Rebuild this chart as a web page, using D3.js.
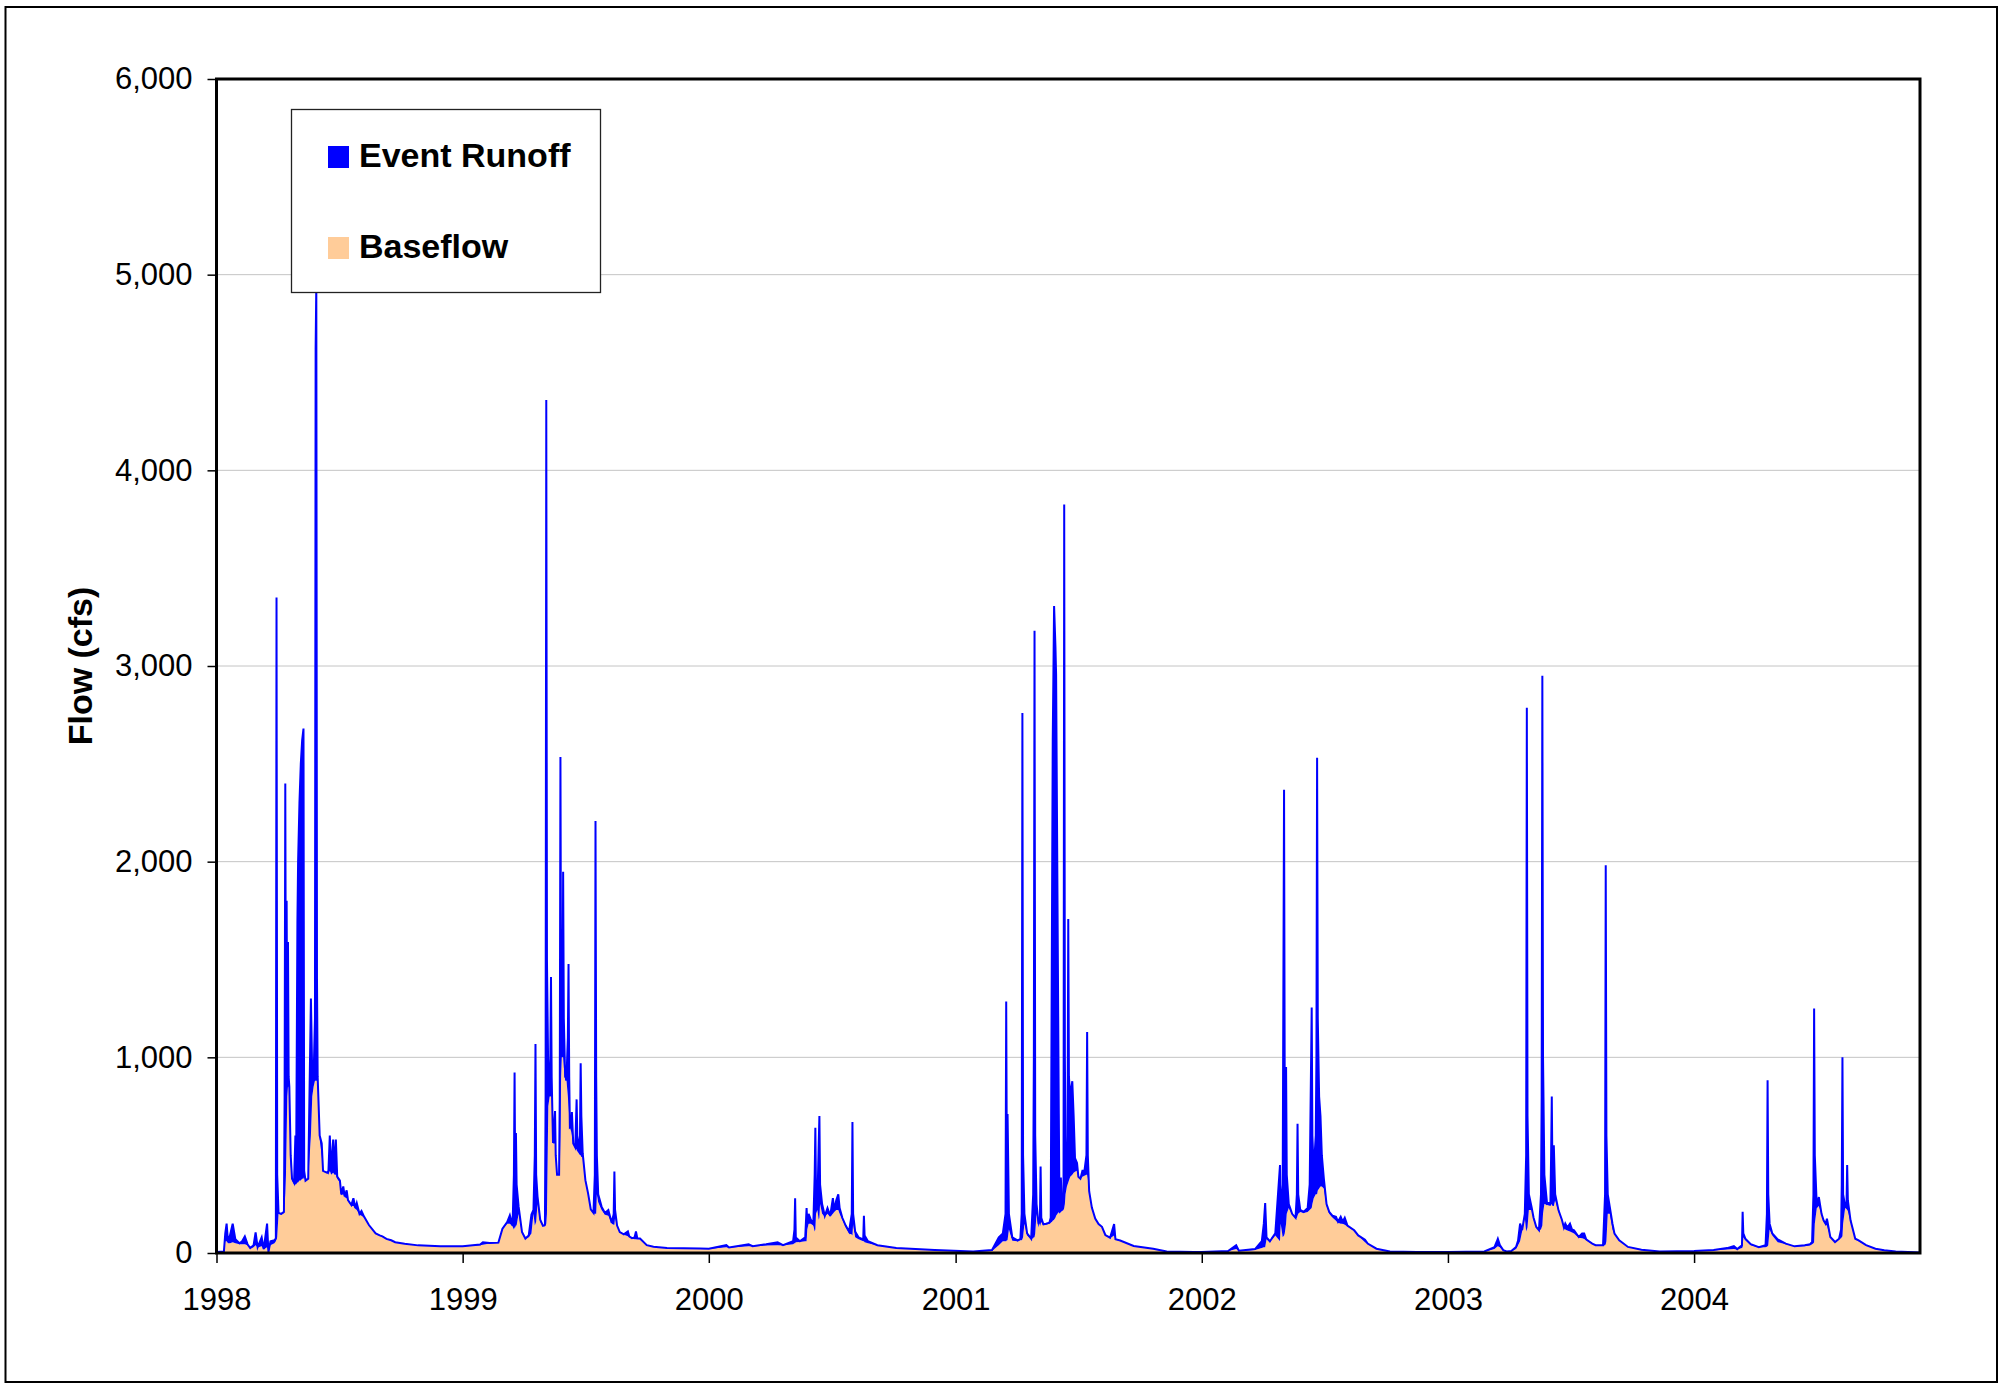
<!DOCTYPE html>
<html>
<head>
<meta charset="utf-8">
<script src="https://cdn.jsdelivr.net/npm/d3@7"></script>
<style>
  body { margin: 0; background: #fff; }
  text { font-family: Arial, "Liberation Sans", sans-serif; }
</style>
</head>
<body>
<script>
// dates are ISO ordinal dates (year-dayOfYear), flows in cfs
const dates1998 = ["1998-001","1998-012","1998-014","1998-016","1998-018","1998-021","1998-025","1998-029","1998-035","1998-039",
  "1998-043","1998-047","1998-051","1998-056","1998-059","1998-062","1998-068","1998-071","1998-076","1998-078",
  "1998-081","1998-087","1998-089","1998-090","1998-091","1998-093","1998-097","1998-101","1998-102","1998-103",
  "1998-104","1998-105","1998-106","1998-107","1998-108","1998-109","1998-111","1998-113","1998-116","1998-118",
  "1998-119","1998-121","1998-122","1998-124","1998-126","1998-128","1998-130","1998-131","1998-133","1998-137",
  "1998-141","1998-143","1998-145","1998-147","1998-148","1998-149","1998-150","1998-151","1998-154","1998-157",
  "1998-159","1998-165","1998-167","1998-169","1998-171","1998-174","1998-176","1998-178","1998-180","1998-184",
  "1998-186","1998-189","1998-191","1998-194","1998-196","1998-201","1998-204","1998-207","1998-209","1998-213",
  "1998-216","1998-220","1998-227","1998-237","1998-243","1998-247","1998-253","1998-260","1998-266","1998-280",
  "1998-300","1998-333"];
const base1998 = [5,8,60,60,50,50,55,50,45,45, 45,40,22,30,40,28,35,18,30,5, 40,50,60,70,80,200,195,205,250,300,
  400,600,800,850,850,830,450,370,350,350, 350,360,360,370,370,380,380,390,370,380, 600,800,850,880,880,880,880,860,580,500,
  420,410,400,420,400,410,400,400,380,360, 295,300,285,280,265,240,240,225,220,195, 190,180,140,98,88,83,70,63,54,46, 38,33];
const runoff1998 = [0,0,40,90,10,40,95,20,5,15, 40,5,3,10,65,2,45,2,120,0, 20,15,15,3280,320,5,5,5,550,2100,
  600,1200,80,740,50,20,50,10,10,250, 20,1340,1640,1930,2130,2240,2300,30,0,0, 700,100,50,320,3740,4070,520,40,20,60,
  0,0,20,180,20,170,30,180,10,10, 5,40,5,40,5,5,40,5,35,5, 25,5,3,2,2,2,2,2,1,1, 1,1];

const dates1999 = ["1999-001","1999-027","1999-031","1999-041","1999-054","1999-060","1999-067","1999-071","1999-075","1999-077",
  "1999-078","1999-079","1999-080","1999-081","1999-084","1999-089","1999-094","1999-099","1999-103","1999-106",
  "1999-108","1999-109","1999-110","1999-112","1999-116","1999-120","1999-123","1999-124","1999-125","1999-126",
  "1999-128","1999-130","1999-131","1999-132","1999-133","1999-135","1999-138","1999-139","1999-141","1999-144",
  "1999-145","1999-146","1999-147","1999-148","1999-149","1999-150","1999-151","1999-153","1999-155","1999-157",
  "1999-158","1999-159","1999-160","1999-162","1999-163","1999-165","1999-168","1999-170","1999-171","1999-173",
  "1999-175","1999-176","1999-177","1999-179","1999-183","1999-187","1999-191","1999-195","1999-197","1999-198",
  "1999-199","1999-200","1999-202","1999-207","1999-212","1999-217","1999-222","1999-225","1999-226","1999-227",
  "1999-230","1999-234","1999-240","1999-246","1999-248","1999-252","1999-256","1999-258","1999-260","1999-264",
  "1999-274","1999-284","1999-304","1999-353"];
const base1999 = [33,40,42,48,50,120,150,150,135,120, 130,130,140,140,200,100,72,80,100,200, 140,150,160,250,160,135,135,140,150,200,
  750,800,800,800,800,560,560,480,400,400, 420,600,900,1000,1000,1000,950,880,880,800, 750,700,640,620,600,560,530,530,520,510,
  500,500,490,490,370,300,220,200,200,200, 200,300,260,220,195,190,150,145,145,180, 135,105,93,85,82,74,70,70,70,70, 39,31,24,22];
const runoff1999 = [1,3,13,3,3,4,8,43,5,280, 792,170,473,210,37,7,2,10,97,20, 360,918,240,40,10,5,10,660,4210,1300,
  140,100,200,611,100,2,166,20,0,0, 380,1935,300,52,100,948,250,20,14,300, 727,200,3,30,120,0,10,255,80,10,
  100,470,210,20,2,5,3,5,200,2008, 700,200,40,17,10,30,5,55,271,40, 5,2,2,25,3,2,10,40,5,4, 1,1,1,1];

const dates2000 = ["2000-001","2000-027","2000-031","2000-060","2000-066","2000-086","2000-103","2000-111","2000-126","2000-128",
  "2000-129","2000-130","2000-136","2000-144","2000-146","2000-147","2000-149","2000-152","2000-156","2000-158",
  "2000-159","2000-160","2000-162","2000-164","2000-165","2000-166","2000-169","2000-173","2000-177","2000-181",
  "2000-185","2000-187","2000-190","2000-193","2000-195","2000-199","2000-204","2000-209","2000-213","2000-214",
  "2000-215","2000-218","2000-223","2000-230","2000-231","2000-232","2000-237","2000-251","2000-279","2000-336"];
const base2000 = [21,30,27,35,33,38,40,38,45,50, 50,55,56,60,60,120,150,150,140,110, 120,200,220,170,180,250,200,185,200,185,
  200,210,220,220,200,170,130,100,95,90, 150,80,70,60,60,55,50,38,24,14];
const runoff2000 = [1,10,1,10,2,7,15,2,15,70, 230,25,4,20,170,30,50,23,10,290, 520,100,30,390,520,100,50,5,30,5,
  80,10,50,80,30,10,10,10,105,580, 50,30,10,10,130,35,10,2,1,1];

const dates2001 = ["2001-027","2001-055","2001-065","2001-071","2001-075","2001-076","2001-077","2001-078","2001-080","2001-085",
  "2001-093","2001-097","2001-099","2001-100","2001-101","2001-103","2001-107","2001-113","2001-116","2001-117",
  "2001-118","2001-119","2001-121","2001-124","2001-126","2001-127","2001-128","2001-131","2001-135","2001-140",
  "2001-142","2001-144","2001-145","2001-147","2001-149","2001-150","2001-152","2001-154","2001-155","2001-157",
  "2001-159","2001-161","2001-162","2001-163","2001-164","2001-166","2001-167","2001-168","2001-169","2001-171",
  "2001-174","2001-176","2001-178","2001-181","2001-183","2001-186","2001-189","2001-192","2001-195","2001-196",
  "2001-197","2001-199","2001-203","2001-208","2001-213","2001-218","2001-223","2001-230","2001-236","2001-238",
  "2001-245","2001-265","2001-294","2001-314","2001-354"];
const base2001 = [7,10,40,60,60,60,65,65,120,63, 60,65,65,70,80,150,90,70,75,80, 80,100,200,130,160,135,160,140,145,150,
  155,160,165,170,180,190,200,210,200,210, 215,220,230,250,300,340,350,360,370,390, 400,410,415,420,385,375,390,395,400,400,
  380,310,230,174,146,132,90,76,90,68, 62,35,21,8,5];
const runoff2001 = [1,5,40,40,140,1225,335,645,80,17, 4,8,135,2690,420,50,10,3,225,920, 3100,500,50,18,20,307,20,8,5,5,
  25,1640,2453,3136,2920,2765,1632,500,8,176, 15,80,3595,750,200,33,250,1347,530,410, 478,290,70,40,5,5,30,25,100,730,
  120,6,2,2,2,2,2,2,58,2, 2,1,1,0,0];

const dates2002 = ["2002-001","2002-040","2002-052","2002-056","2002-080","2002-090","2002-093","2002-095","2002-097","2002-102",
  "2002-110","2002-117","2002-118","2002-121","2002-123","2002-124","2002-126","2002-127","2002-130","2002-135",
  "2002-140","2002-142","2002-143","2002-144","2002-147","2002-152","2002-158","2002-161","2002-164","2002-165",
  "2002-167","2002-170","2002-171","2002-172","2002-173","2002-175","2002-177","2002-179","2002-182","2002-186",
  "2002-190","2002-195","2002-200","2002-203","2002-207","2002-210","2002-213","2002-217","2002-227","2002-233",
  "2002-243","2002-247","2002-260","2002-280","2002-320"];
const base2002 = [5,9,20,10,15,25,30,30,70,55, 90,60,150,80,90,100,150,200,230,195, 175,180,190,200,210,205,210,220,230,250,
  280,300,300,300,320,330,340,340,330,240, 200,180,165,155,150,150,145,135,112,88, 55,46,21,8,5];
const runoff2002 = [0,1,20,2,5,35,120,225,10,5, 10,390,50,270,2278,700,800,200,20,5, 5,120,470,100,10,5,20,130,1025,350,
  140,300,700,2231,880,470,360,160,50,10, 10,10,20,5,35,10,35,5,4,2, 13,2,1,0,0];

const dates2003 = ["2003-001","2003-055","2003-070","2003-073","2003-075","2003-078","2003-083","2003-088","2003-095","2003-102",
  "2003-105","2003-108","2003-111","2003-115","2003-117","2003-118","2003-119","2003-121","2003-125","2003-128",
  "2003-132","2003-136","2003-139","2003-140","2003-141","2003-142","2003-144","2003-148","2003-153","2003-154",
  "2003-155","2003-156","2003-158","2003-160","2003-165","2003-170","2003-173","2003-175","2003-178","2003-182",
  "2003-185","2003-188","2003-195","2003-200","2003-203","2003-206","2003-210","2003-215","2003-220","2003-231",
  "2003-234","2003-235","2003-236","2003-238","2003-241","2003-245","2003-248","2003-255","2003-268","2003-288",
  "2003-315"];
const base2003 = [5,7,20,30,35,30,12,8,9,20, 40,60,110,180,110,120,130,220,220,170, 130,115,120,130,140,200,250,245,240,245,
  250,240,240,270,210,165,125,120,115,110, 105,100,78,75,72,65,55,46,38,37, 40,45,60,200,200,120,95,62,30,16, 8];
const runoff2003 = [0,1,10,25,38,10,3,0,1,10, 23,90,7,20,390,2666,570,80,15,10, 3,2,180,670,2810,800,150,7,20,255,
  550,160,310,30,8,5,5,30,15,40, 15,16,4,25,28,5,5,2,2,3, 260,1937,540,100,35,30,4,3,1,1, 0];

const dates2004 = ["2004-001","2004-030","2004-050","2004-060","2004-065","2004-072","2004-073","2004-074","2004-077","2004-085",
  "2004-097","2004-107","2004-109","2004-110","2004-111","2004-113","2004-117","2004-125","2004-137","2004-150",
  "2004-165","2004-173","2004-176","2004-178","2004-179","2004-180","2004-183","2004-186","2004-190","2004-193",
  "2004-196","2004-198","2004-203","2004-210","2004-216","2004-219","2004-220","2004-221","2004-222","2004-225",
  "2004-227","2004-228","2004-229","2004-233","2004-240","2004-245","2004-256","2004-270","2004-283","2004-300",
  "2004-336"];
const base2004 = [9,14,18,20,18,25,30,80,65,40, 28,30,32,35,40,120,90,55,45,33, 35,38,45,50,55,150,230,240,195,160,
  145,140,80,55,70,75,80,85,150,230, 225,220,215,160,70,60,38,21,13,8, 3];
const runoff2004 = [1,1,7,15,2,15,181,20,8,5, 2,10,168,848,260,30,10,15,3,1, 5,7,11,250,1195,350,5,46,5,7,
  5,35,2,1,3,45,270,915,150,10, 10,230,55,7,3,4,2,1,1,0, 0];

const yTicks = [0, 1000, 2000, 3000, 4000, 5000, 6000];
const xTickLabels = ["1998", "1999", "2000", "2001", "2002", "2003", "2004"];
const axisStart = "1998-001", axisEnd = "2004-336";
const seriesNames = ["Event Runoff", "Baseflow"];
const seriesColors = ["#0000FF", "#FFCC99"];

// ---- build rows ----
const toDate = s => new Date(+s.slice(0, 4), 0, +s.slice(5));
const allDates = [].concat(dates1998, dates1999, dates2000, dates2001, dates2002, dates2003, dates2004);
const allBase = [].concat(base1998, base1999, base2000, base2001, base2002, base2003, base2004);
const allRunoff = [].concat(runoff1998, runoff1999, runoff2000, runoff2001, runoff2002, runoff2003, runoff2004);
const rows = allDates.map((d, i) => ({ date: toDate(d), base: allBase[i], runoff: allRunoff[i] }));

const W = 2007, H = 1385;
const plotLeft = 216.5, plotRight = 1920, plotTop = 79, plotBottom = 1253;

const svg = d3.select("body").append("svg").attr("width", W).attr("height", H);

// outer chart border
svg.append("rect").attr("x", 5.5).attr("y", 7).attr("width", 1991.5).attr("height", 1375)
  .attr("fill", "white").attr("stroke", "#000").attr("stroke-width", 2);

const x = d3.scaleTime().domain([toDate(axisStart), toDate(axisEnd)]).range([plotLeft, plotRight]);
const y = d3.scaleLinear().domain([0, 6000]).range([plotBottom, plotTop]);

// gridlines
svg.append("g").selectAll("line").data(yTicks.slice(1)).enter().append("line")
  .attr("x1", plotLeft).attr("x2", plotRight)
  .attr("y1", d => y(d)).attr("y2", d => y(d))
  .attr("stroke", "#c4c4c4").attr("stroke-width", 1);

const stacked = d3.stack().keys(["base", "runoff"])(rows);

const area = d3.area()
  .x(d => x(d.data.date))
  .y0(d => y(d[0]))
  .y1(d => y(d[1]));

svg.append("path").datum(stacked[0]).attr("d", area).attr("fill", seriesColors[1]);
svg.append("path").datum(stacked[1]).attr("d", area).attr("fill", seriesColors[0]);

const topLine = d3.line().x(d => x(d.data.date)).y(d => y(d[1]));
svg.append("path").datum(stacked[1]).attr("d", topLine)
  .attr("fill", "none").attr("stroke", seriesColors[0]).attr("stroke-width", 2)
  .attr("stroke-linejoin", "miter");

// axes
const yAxis = d3.axisLeft(y).tickValues(yTicks).tickFormat(d3.format(",")).tickSize(9).tickPadding(15);
const gy = svg.append("g").attr("transform", `translate(${plotLeft},0)`).call(yAxis);
gy.select(".domain").remove();
gy.selectAll(".tick line").attr("stroke", "#000").attr("stroke-width", 1.5);
gy.selectAll(".tick text").attr("font-size", 31).attr("fill", "#000");

const xTickDates = xTickLabels.map(t => new Date(+t, 0, 1));
const xAxis = d3.axisBottom(x).tickValues(xTickDates).tickFormat(d3.timeFormat("%Y")).tickSize(10).tickPadding(25);
const gx = svg.append("g").attr("transform", `translate(0,${plotBottom})`).call(xAxis);
gx.select(".domain").remove();
gx.selectAll(".tick line").attr("stroke", "#000").attr("stroke-width", 1.5);
gx.selectAll(".tick text").attr("font-size", 31).attr("fill", "#000");

// plot frame
svg.append("rect").attr("x", plotLeft).attr("y", plotTop).attr("width", plotRight - plotLeft).attr("height", plotBottom - plotTop)
  .attr("fill", "none").attr("stroke", "#000").attr("stroke-width", 3);

// y title
svg.append("text")
  .attr("transform", `translate(80,${(plotTop + plotBottom) / 2}) rotate(-90)`)
  .attr("text-anchor", "middle").attr("dominant-baseline", "central")
  .attr("font-size", 34).attr("font-weight", "bold")
  .text("Flow (cfs)");

// legend
const lg = svg.append("g");
lg.append("rect").attr("x", 291.5).attr("y", 109.5).attr("width", 309).attr("height", 183)
  .attr("fill", "white").attr("stroke", "#222").attr("stroke-width", 1.3);
seriesNames.forEach((name, i) => {
  const yy = 146 + i * 91;
  lg.append("rect").attr("x", 328).attr("y", yy).attr("width", 21).attr("height", 22).attr("fill", seriesColors[i]);
  lg.append("text").attr("x", 359).attr("y", yy + 21).attr("font-size", 34).attr("font-weight", "bold")
    .text(name);
});
</script>
</body>
</html>
